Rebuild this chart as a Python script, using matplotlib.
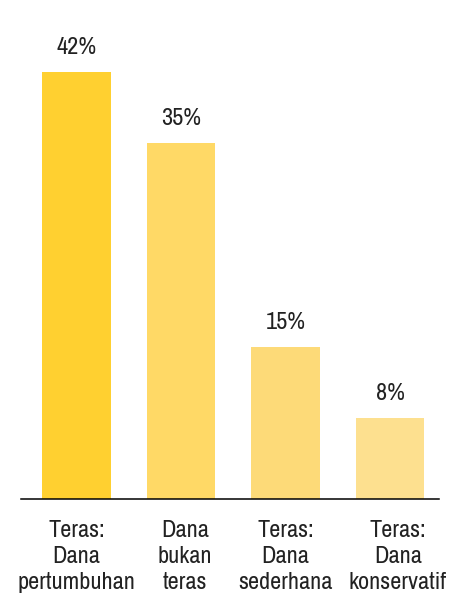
import matplotlib.pyplot as plt
import matplotlib.transforms as mtransforms

# data
kategori = ['Teras:\nDana\npertumbuhan', 'Dana\nbukan\nteras', 'Teras:\nDana\nsederhana', 'Teras:\nDana\nkonservatif']
nilai = [42, 35, 15, 8]
warna = ['#FFD030', '#FFD966', '#FDDA78', '#FDE08F']

plt.rcParams['font.family'] = ['Archivo Narrow', 'DejaVu Sans']

fig = plt.figure(figsize=(4.62, 6.01), dpi=100)
ax = fig.add_axes([21/462, 102/601, 418/462, 427/601])

x = range(len(nilai))
bars = ax.bar(x, nilai, width=0.66, color=warna)
for b, v in zip(bars, nilai):
    ax.annotate(f'{v}%', (b.get_x() + b.get_width()/2, v), xytext=(0, 10),
                textcoords='offset points', ha='center', va='bottom',
                fontsize=17.5, color='#222222')

ax.set_xlim(-0.531, 3.469)
ax.set_ylim(0, 42)
ax.set_xticks(list(x))
ax.set_xticklabels(kategori, fontsize=17.5, linespacing=1.3, color='#222222')
ax.tick_params(axis='x', length=0, pad=15)
# geser sedikit label terakhir ke kanan
lbl = ax.get_xticklabels()
lbl[-1].set_transform(lbl[-1].get_transform() + mtransforms.ScaledTranslation(8/100, 0, fig.dpi_scale_trans))
lbl[1].set_transform(lbl[1].get_transform() + mtransforms.ScaledTranslation(4/100, 0, fig.dpi_scale_trans))
ax.set_yticks([])
for s in ['top', 'left', 'right']:
    ax.spines[s].set_visible(False)
ax.spines['bottom'].set_linewidth(1.1)

fig.savefig('out.png', dpi=100)
